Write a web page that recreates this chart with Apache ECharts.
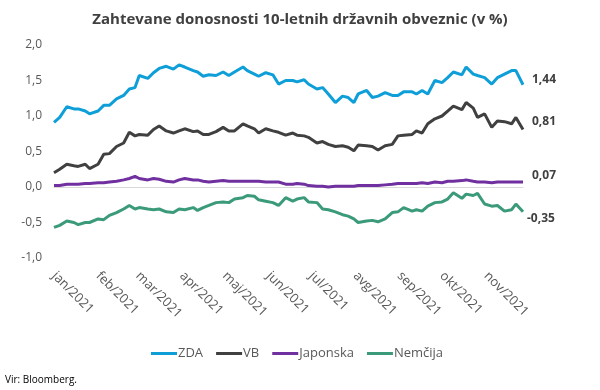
<!DOCTYPE html>
<html>
<head>
<meta charset="utf-8">
<script src="https://cdn.jsdelivr.net/npm/echarts@6/dist/echarts.min.js"></script>
<style>html,body{margin:0;padding:0;background:#fff}#c{width:600px;height:390px}</style>
</head>
<body>
<div id="c"></div>
<script>
var tickLabels = ["jan/2021","feb/2021","mar/2021","apr/2021","maj/2021","jun/2021","jul/2021","avg/2021","sep/2021","okt/2021","nov/2021"];
var tickDates = ["2021-01-04","2021-02-04","2021-03-04","2021-04-04","2021-05-04","2021-06-04","2021-07-04","2021-08-04","2021-09-04","2021-10-04","2021-11-04"];
var seriesNames = ["ZDA","VB","Japonska","Nemčija"];
var dates = ["2021-01-04","2021-01-08","2021-01-13","2021-01-18","2021-01-21","2021-01-26","2021-01-29",
  "2021-02-04","2021-02-08","2021-02-12","2021-02-17","2021-02-22","2021-02-26",
  "2021-03-02","2021-03-05","2021-03-11","2021-03-15","2021-03-19","2021-03-24","2021-03-29",
  "2021-04-02","2021-04-06","2021-04-12","2021-04-15","2021-04-19","2021-04-23","2021-04-28",
  "2021-05-03","2021-05-07","2021-05-11","2021-05-17","2021-05-20","2021-05-25","2021-05-28",
  "2021-06-02","2021-06-07","2021-06-11","2021-06-16","2021-06-21","2021-06-24","2021-06-29",
  "2021-07-02","2021-07-08","2021-07-12","2021-07-16","2021-07-21","2021-07-26","2021-07-30",
  "2021-08-03","2021-08-06","2021-08-12","2021-08-16","2021-08-20","2021-08-25","2021-08-30",
  "2021-09-03","2021-09-07","2021-09-13","2021-09-16","2021-09-20","2021-09-24","2021-09-29",
  "2021-10-04","2021-10-08","2021-10-12","2021-10-18","2021-10-21","2021-10-26","2021-10-29",
  "2021-11-03","2021-11-08","2021-11-12","2021-11-17","2021-11-22","2021-11-25","2021-11-30"];
var zda = [0.91,0.98,1.13,1.10,1.10,1.07,1.03,1.07,1.15,1.15,1.24,1.29,1.38,1.40,1.57,1.53,1.61,1.67,1.70,
  1.66,1.72,1.69,1.64,1.62,1.56,1.58,1.57,1.62,1.57,1.62,1.69,1.64,1.59,1.56,1.61,1.58,1.45,1.50,
  1.50,1.48,1.51,1.45,1.38,1.40,1.31,1.19,1.28,1.26,1.19,1.31,1.36,1.26,1.28,1.33,1.29,1.29,1.34,
  1.34,1.31,1.36,1.31,1.50,1.47,1.54,1.62,1.58,1.69,1.59,1.57,1.54,1.45,1.54,1.59,1.64,1.64,1.44];
var vb = [0.20,0.25,0.32,0.30,0.29,0.32,0.26,0.32,0.46,0.47,0.57,0.62,0.77,0.72,0.74,0.73,0.81,0.86,0.79,
  0.76,0.79,0.82,0.78,0.79,0.74,0.74,0.78,0.84,0.79,0.79,0.89,0.86,0.82,0.76,0.82,0.79,0.77,0.73,
  0.76,0.73,0.72,0.70,0.62,0.64,0.60,0.57,0.58,0.56,0.51,0.59,0.58,0.57,0.52,0.58,0.60,0.72,0.73,
  0.74,0.79,0.76,0.89,0.96,1.00,1.07,1.14,1.09,1.19,1.11,0.98,1.03,0.84,0.93,0.92,0.89,0.98,0.81];
var japonska = [0.02,0.02,0.04,0.04,0.04,0.05,0.05,0.06,0.06,0.07,0.08,0.10,0.12,0.15,0.12,0.10,0.12,0.11,0.08,
  0.07,0.10,0.12,0.10,0.10,0.08,0.07,0.08,0.09,0.08,0.08,0.08,0.08,0.08,0.08,0.07,0.07,0.07,0.04,
  0.04,0.05,0.04,0.02,0.01,0.01,0.00,0.01,0.01,0.01,0.01,0.02,0.02,0.02,0.02,0.03,0.04,0.05,0.05,
  0.05,0.05,0.06,0.05,0.07,0.06,0.08,0.08,0.09,0.10,0.08,0.07,0.07,0.06,0.07,0.07,0.07,0.07,0.07];
var nemcija = [-0.57,-0.54,-0.48,-0.50,-0.53,-0.50,-0.50,-0.45,-0.46,-0.40,-0.36,-0.31,-0.26,-0.31,-0.29,-0.31,-0.32,-0.31,-0.35,
  -0.36,-0.31,-0.32,-0.29,-0.33,-0.29,-0.26,-0.22,-0.21,-0.22,-0.17,-0.15,-0.12,-0.13,-0.18,-0.20,-0.22,-0.26,-0.15,
  -0.20,-0.17,-0.15,-0.21,-0.22,-0.31,-0.32,-0.35,-0.39,-0.41,-0.45,-0.50,-0.48,-0.47,-0.49,-0.45,-0.36,-0.35,-0.29,
  -0.34,-0.32,-0.34,-0.27,-0.22,-0.21,-0.17,-0.08,-0.16,-0.10,-0.12,-0.09,-0.24,-0.27,-0.26,-0.34,-0.32,-0.24,-0.35];

function ts(s){ return Date.UTC(+s.slice(0,4), +s.slice(5,7) - 1, +s.slice(8,10)); }
function fmt(v, d){ return v.toFixed(d).replace('.', ','); }

var colors = ["#0f9fd8","#404040","#7030a0","#3a9a7a"];
var allData = [zda, vb, japonska, nemcija];
var endOffsets = [[0,-5],[0,-8],[0,-6],[-5,7]];
var FONT = "'Open Sans', 'Liberation Sans', sans-serif";
var xMin = ts(dates[0]), xMax = ts(dates[dates.length - 1]);
var tickValues = tickDates.map(ts);

var chart = echarts.init(document.getElementById('c'), null, {renderer:'canvas'});
chart.setOption({
  animation: false,
  color: colors,
  title: {
    text: 'Zahtevane donosnosti 10-letnih državnih obveznic (v %)',
    left: 'center', top: 7,
    textStyle: {fontFamily: FONT, fontSize: 15, fontWeight: 'bold', color: '#404040'}
  },
  legend: {
    left: 146, top: 342,
    itemWidth: 26, itemHeight: 3, itemGap: 13,
    icon: 'rect',
    textStyle: {fontFamily: FONT, fontSize: 13, color: '#595959', padding: [0,0,0,-4]},
    data: seriesNames
  },
  graphic: [{
    type: 'text', left: 5, top: 375,
    style: {text: 'Vir: Bloomberg.', fontFamily: FONT, fontSize: 10, fill: '#000'}
  }],
  grid: {left: 54, right: 77, top: 45, bottom: 132, containLabel: false},
  xAxis: [{
    type: 'value', min: xMin, max: xMax,
    axisLine: {show: false, onZero: false},
    axisTick: {show: false},
    axisLabel: {
      customValues: tickValues,
      formatter: function(v){ var i = tickValues.indexOf(v); return i >= 0 ? tickLabels[i] : ''; },
      rotate: -45, margin: 16,
      fontFamily: FONT, fontSize: 13, color: '#595959'
    },
    splitLine: {show: false}
  }, {
    type: 'value', min: xMin, max: xMax, position: 'bottom',
    axisLine: {show: true, onZero: true, lineStyle: {color: '#d9d9d9', width: 1}},
    axisTick: {show: false}, axisLabel: {show: false}, splitLine: {show: false}
  }],
  yAxis: {
    type: 'value', min: -1, max: 2, interval: 0.5,
    axisLine: {show: false}, axisTick: {show: false},
    splitLine: {show: false},
    axisLabel: {
      formatter: function(v){ return fmt(v, 1); },
      margin: 12, fontFamily: FONT, fontSize: 12, color: '#595959'
    }
  },
  series: allData.map(function(d, k){
    return {
      name: seriesNames[k], type: 'line',
      data: d.map(function(v, i){ return [ts(dates[i]), v]; }),
      showSymbol: false, symbol: 'none',
      lineStyle: {width: 3, color: colors[k]},
      itemStyle: {color: colors[k]},
      endLabel: {
        show: true, distance: 9, offset: endOffsets[k],
        formatter: function(p){ return fmt(p.value[1], 2); },
        fontFamily: FONT, fontSize: 12, fontWeight: 'bold', color: '#404040'
      },
      z: 3
    };
  })
});
</script>
</body>
</html>
